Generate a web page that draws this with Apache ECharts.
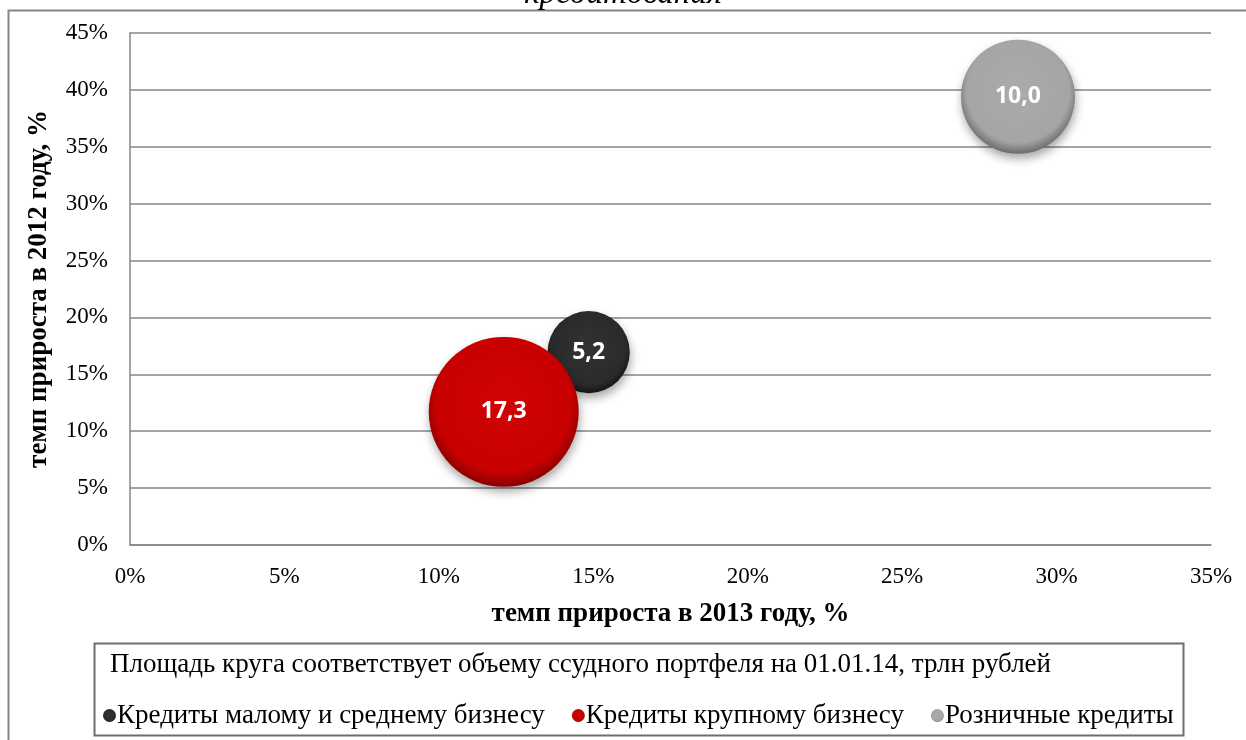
<!DOCTYPE html>
<html>
<head>
<meta charset="utf-8">
<script src="https://cdn.jsdelivr.net/npm/echarts@6/dist/echarts.min.js"></script>
<style>
  html, body { margin: 0; padding: 0; background: #ffffff; }
  #chart { width: 1246px; height: 740px; }
</style>
</head>
<body>
<div id="chart"></div>
<script>
// Loan portfolio segments: growth in 2013 (x), growth in 2012 (y), portfolio on 01.01.14 (trln RUB)
const segments = ['Кредиты малому и среднему бизнесу', 'Кредиты крупному бизнесу', 'Розничные кредиты'];
const growth2013 = [14.85, 12.1, 28.75];
const growth2012 = [16.95, 11.7, 39.4];
const portfolio = [5.2, 17.3, 10.0];

const xTicks = [0, 5, 10, 15, 20, 25, 30, 35];
const yTicks = [0, 5, 10, 15, 20, 25, 30, 35, 40, 45];

const titleText = 'кредитования';
const xTitle = 'темп прироста в 2013 году, %';
const yTitle = 'темп прироста в 2012 году, %';
const noteText = 'Площадь круга соответствует объему ссудного портфеля на 01.01.14, трлн рублей';

// centre / body / rim colours of each ball
const ballColors = [
  ['#333333', '#2a2a2a', '#141414'],
  ['#d00404', '#c80000', '#8a0000'],
  ['#ababab', '#a5a5a5', '#6c6c6c']
];

function ball(c) {
  return new echarts.graphic.RadialGradient(0.5, 0.45, 0.55, [
    { offset: 0, color: c[0] },
    { offset: 0.82, color: c[1] },
    { offset: 1, color: c[2] }
  ]);
}

// diameter for a 10 trln portfolio; circle area scales with the value
const D10 = 114;
const sizeOf = v => D10 * Math.sqrt(v / 10);

const serif = '"Liberation Serif", "Times New Roman", serif';

const series = segments.map((name, i) => ({
  name: name,
  type: 'scatter',
  data: [[growth2013[i], growth2012[i], portfolio[i]]],
  symbolSize: d => sizeOf(d[2]),
  itemStyle: {
    color: ball(ballColors[i]),
    opacity: 1,
    shadowBlur: 10,
    shadowOffsetY: 5,
    shadowOffsetX: 1,
    shadowColor: 'rgba(0,0,0,0.35)'
  },
  emphasis: { disabled: true },
  label: {
    show: true,
    position: 'inside',
    formatter: p => p.value[2].toFixed(1).replace('.', ','),
    color: '#ffffff',
    fontFamily: '"Open Sans", sans-serif',
    fontWeight: 'bold',
    fontSize: 23
  },
  z: i === 1 ? 3 : 2
}));

const chart = echarts.init(document.getElementById('chart'), null, { renderer: 'canvas' });

chart.setOption({
  animation: false,
  backgroundColor: '#ffffff',
  grid: { left: 130, right: 35, top: 33, bottom: 195 },
  xAxis: {
    type: 'value',
    min: 0, max: 35, interval: 5,
    axisLine: { show: true, lineStyle: { color: '#868686', width: 1.5 } },
    axisTick: { show: false },
    splitLine: { show: false },
    axisLabel: {
      formatter: v => v + '%',
      fontFamily: serif, fontSize: 23, color: '#000', margin: 20
    },
    name: xTitle,
    nameLocation: 'middle',
    nameGap: 56,
    nameTextStyle: { fontFamily: serif, fontSize: 27, fontWeight: 'bold', color: '#000' }
  },
  yAxis: {
    type: 'value',
    min: 0, max: 45, interval: 5,
    axisLine: { show: true, lineStyle: { color: '#868686', width: 1.5 } },
    axisTick: { show: false },
    splitLine: { show: true, lineStyle: { color: '#868686', width: 1.5 } },
    axisLabel: {
      formatter: v => v + '%',
      fontFamily: serif, fontSize: 23, color: '#000', margin: 22
    },
    name: yTitle,
    nameLocation: 'middle',
    nameGap: 77,
    nameRotate: 90,
    nameTextStyle: { fontFamily: serif, fontSize: 27, fontWeight: 'bold', color: '#000' }
  },
  legend: {
    data: segments,
    left: 98,
    top: 697,
    icon: 'circle',
    itemWidth: 13,
    itemHeight: 13,
    itemGap: 27,
    selectedMode: false,
    textStyle: { fontFamily: serif, fontSize: 27, color: '#000', padding: [0, 0, 0, -4] }
  },
  graphic: [
    // outer frame
    { type: 'rect', silent: true, shape: { x: 8.5, y: 10.5, width: 1260, height: 760 },
      style: { fill: null, stroke: '#868686', lineWidth: 2 }, z: -1 },
    // title, cut by the top edge
    { type: 'text', left: 'center', top: -22, silent: true,
      style: { text: titleText, font: 'italic 33px ' + serif, fill: '#000' } },
    // note box
    { type: 'rect', silent: true, shape: { x: 94.5, y: 643.5, width: 1089, height: 92 },
      style: { fill: '#ffffff', stroke: '#6e6e6e', lineWidth: 2 }, z: -1 },
    { type: 'text', left: 110, top: 651, silent: true,
      style: { text: noteText, font: '27px ' + serif, fill: '#000' } }
  ],
  series: series
});
</script>
</body>
</html>
